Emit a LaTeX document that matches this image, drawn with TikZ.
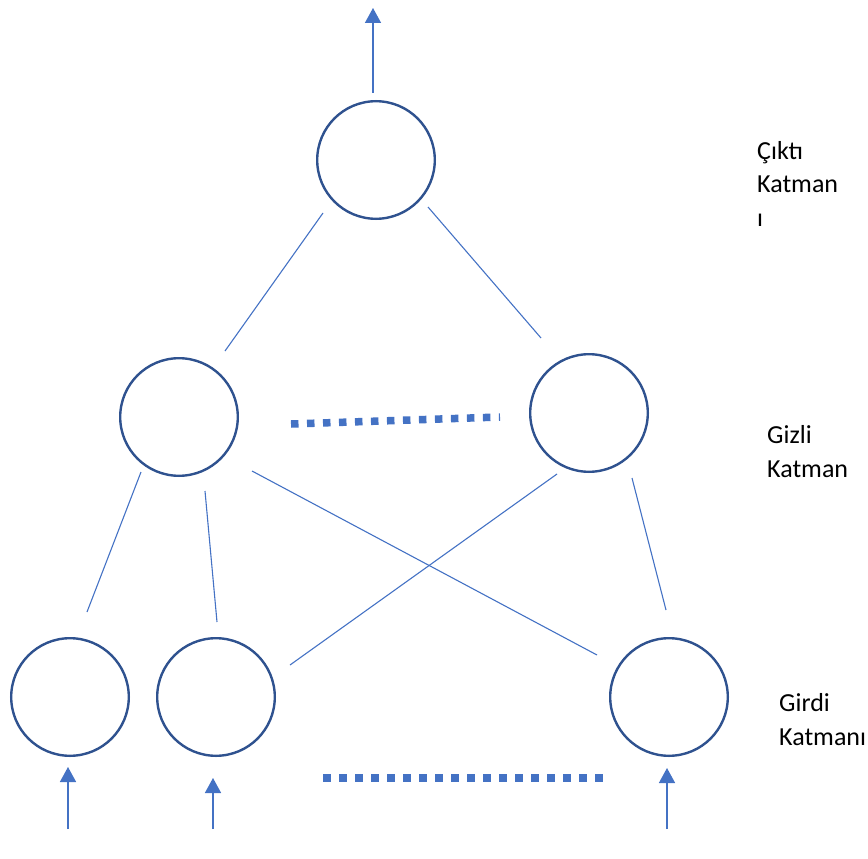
\documentclass[tikz,border=0pt]{standalone}
\usepackage{fontspec}
\setmainfont{Carlito}
\usetikzlibrary{arrows.meta,calc}
\definecolor{ringblue}{HTML}{2F528F}
\definecolor{linkblue}{HTML}{4472C4}
\begin{document}
\begin{tikzpicture}[x=1pt,y=-1pt,
  neuron/.style={circle,draw=ringblue,line width=2.4pt,minimum size=117.6pt,inner sep=0pt},
  link/.style={draw=linkblue,line width=1.1pt},
  dots/.style={draw=linkblue,line width=7.5pt,dash pattern=on 7.5pt off 8.5pt},
  feed/.style={draw=linkblue,line width=1.5pt,-{Triangle[width=16pt,length=15pt]}},
  layer/.style={anchor=base west,align=left,inner sep=0pt,font=\fontsize{26}{33.5}\selectfont}]
\useasboundingbox (0,0) rectangle (868,859);

% neurons
\node[neuron] (out) at (376,160) {};
\node[neuron] (h1)  at (179,417) {};
\node[neuron] (h2)  at (589,413) {};
\node[neuron] (i1)  at (70,697)  {};
\node[neuron] (i2)  at (216,697) {};
\node[neuron] (i3)  at (669,697) {};

% weights between layers
\draw[link] ($(out)+(-53,53)$) -- ($(h1)+(46,-66)$);
\draw[link] ($(out)+(52,47)$)  -- ($(h2)+(-48,-75)$);
\draw[link] ($(h1)+(-38,55)$)  -- ($(i1)+(17,-85)$);
\draw[link] ($(h1)+(26,74)$)   -- ($(i2)+(1,-75)$);
\draw[link] ($(h1)+(73,54)$)   -- ($(i3)+(-72,-42)$);
\draw[link] ($(h2)+(-32,61)$)  -- ($(i2)+(74,-32)$);
\draw[link] ($(h2)+(43,65)$)   -- ($(i3)+(-3,-87)$);

% elided neurons
\draw[dots] ($(h1)+(112,7)$) -- ($(h2)+(-89,4)$);
\draw[dots] ($(i2)+(107,81)$) -- ($(i3)+(-63,81)$);

% output and inputs
\coordinate (yout) at (373,8);
\coordinate (x1) at (68,829);
\coordinate (x2) at (213,829);
\coordinate (x3) at (667,829);
\draw[feed] ($(out)+(-3,-67)$) -- (yout);
\draw[feed] (x1) -- ($(i1)+(-2,70)$);
\draw[feed] (x2) -- ($(i2)+(-3,81)$);
\draw[feed] (x3) -- ($(i3)+(-2,71)$);

% layer names (anchored at the baseline of the last line)
\node[layer] (lout) at (757,226) {Çıktı\\Katman\\ı};
\node[layer] (lhid) at (767,477) {Gizli\\Katman};
\node[layer] (lin)  at (779,745) {Girdi\\Katmanı};
\end{tikzpicture}
\end{document}
